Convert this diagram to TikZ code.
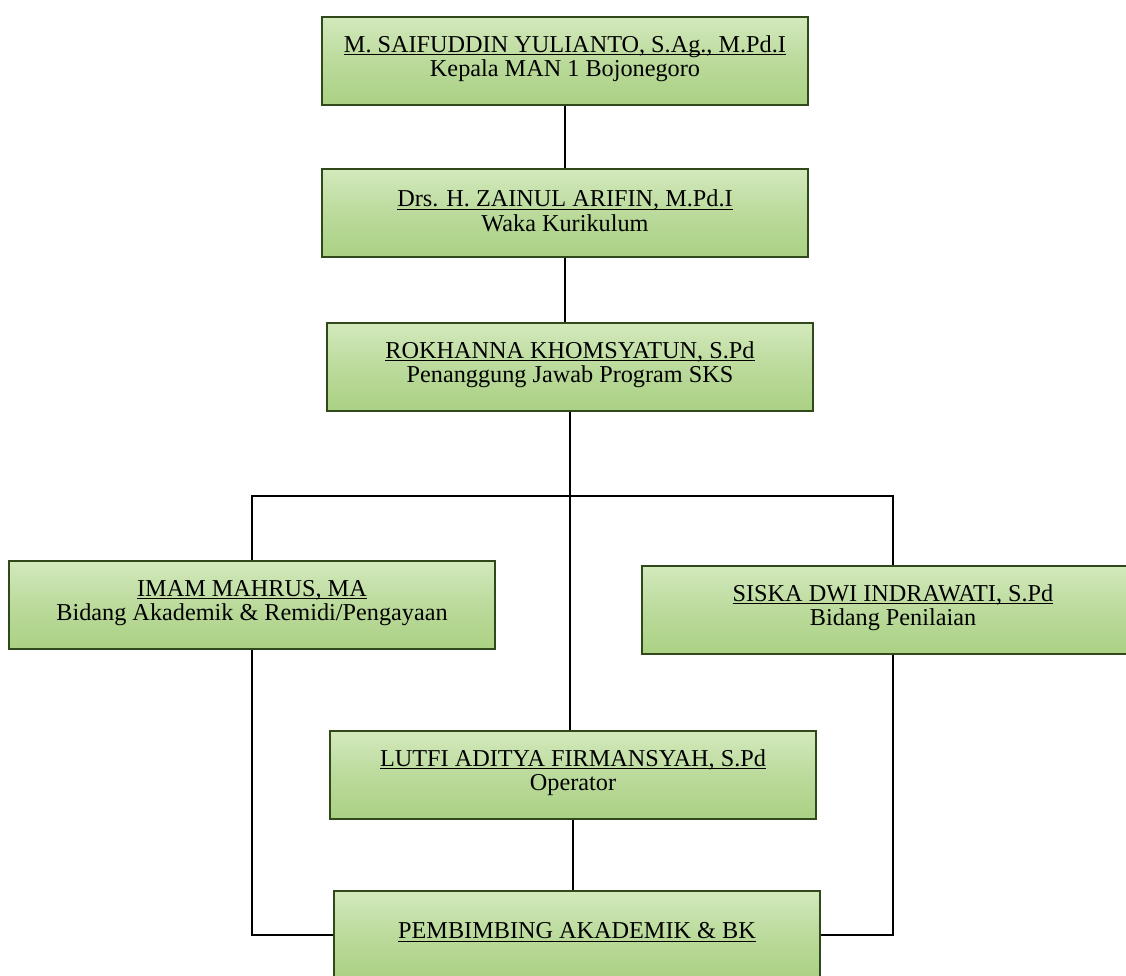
\documentclass[tikz,border=0pt]{standalone}
\usepackage{fontspec}
\setmainfont{Liberation Serif}
\usetikzlibrary{positioning}
\newcommand{\pxunit}{0.02cm}
\newcommand{\nmline}[1]{\underline{\smash{#1}}\vphantom{g}}
\definecolor{boxgreen}{HTML}{AAD183}
\definecolor{boxlight}{HTML}{D3E9BC}
\definecolor{boxedge}{HTML}{30491B}
\tikzset{
    jbtsty/.style={draw=boxedge, line width=1.1pt, rectangle, top color=boxlight,
        bottom color=boxgreen, middle color=boxgreen!80!white, align=center,
        minimum width=486*\pxunit, minimum height=88*\pxunit, anchor=center,
        font=\fontsize{13.8}{14}\selectfont},
    lnsty/.style={draw=black, line width=0.9pt},
}

\begin{document}
\begin{tikzpicture}
\useasboundingbox (0,0) rectangle (1126*\pxunit, -976*\pxunit);

\node (Kpl) [jbtsty] at (565*\pxunit, -61*\pxunit)
    {\nmline{M. SAIFUDDIN YULIANTO, S.Ag., M.Pd.I}\\Kepala MAN 1 Bojonegoro};
\node (Wk) [jbtsty] at (565*\pxunit, -213*\pxunit)
    {\nmline{Drs. H. ZAINUL ARIFIN, M.Pd.I}\\Waka Kurikulum};
\node (Pj) [jbtsty] at (570*\pxunit, -367*\pxunit)
    {\nmline{ROKHANNA KHOMSYATUN, S.Pd}\\Penanggung Jawab Program SKS};
\node (Bak) [jbtsty] at (252*\pxunit, -605*\pxunit)
    {\nmline{IMAM MAHRUS, MA}\\Bidang Akademik \& Remidi/Pengayaan};
\node (Bpn) [jbtsty, minimum width=502*\pxunit] at (893*\pxunit, -610*\pxunit)
    {\nmline{SISKA DWI INDRAWATI, S.Pd}\\Bidang Penilaian};
\node (Opr) [jbtsty] at (573*\pxunit, -775*\pxunit)
    {\nmline{LUTFI ADITYA FIRMANSYAH, S.Pd}\\Operator};
\node (Pba) [jbtsty] at (577*\pxunit, -935*\pxunit)
    {\nmline{PEMBIMBING AKADEMIK \& BK}};

% garis utama
\draw [lnsty] (Kpl.south) -- (Kpl.south |- Wk.north);
\draw [lnsty] (Wk.south) -- (Wk.south |- Pj.north);
\draw [lnsty] (Pj.south) -- (Pj.south |- Opr.north);
\draw [lnsty] (Opr.south) -- (Opr.south |- Pba.north);

% cabang bidang
\coordinate (brL) at (Bak.north |- 0, -496*\pxunit);
\coordinate (brR) at (Bpn.north |- 0, -496*\pxunit);
\draw [lnsty] (Bak.north) -- (brL) -- (brR) -- (Bpn.north);
\draw [lnsty] (Bak.south) |- (Pba.west);
\draw [lnsty] (Bpn.south) |- (Pba.east);

\end{tikzpicture}
\end{document}
